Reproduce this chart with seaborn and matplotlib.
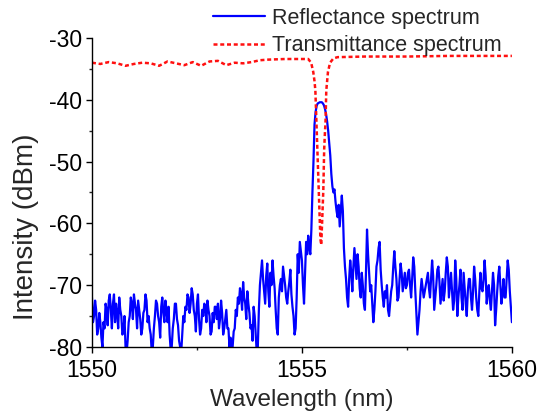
import numpy as np
import pandas as pd
import matplotlib
matplotlib.use("Agg")
import matplotlib.pyplot as plt
from matplotlib.ticker import MultipleLocator
import seaborn as sns

# ---- data ----
refl_start = 1550.0
refl_step = 0.025
refl_db = [
    # 1550.0 - 1550.975
    -72, -76, -75, -72.5, -74, -78, -77, -74.5, -76, -78.5, -80, -76, -77, -73, -74, -76.5, -72.5, -71.5, -74, -77,
    -73, -71.5, -76, -73, -74.5, -77, -72, -74, -75, -78, -77.5, -75, -80, -81, -79, -76, -75, -72, -73, -75.5,
    # 1551.0 - 1551.975
    -71.5, -73, -74, -77, -72.5, -74, -75.5, -78, -77, -74.5, -74, -71.5, -72.5, -76, -75, -77, -78, -81, -80, -77,
    -75, -72.5, -73, -75, -76, -78.5, -73.5, -72, -74.5, -76, -72.5, -74, -76, -73.5, -78, -80.5, -80, -77, -75.5, -73,
    # 1552.0 - 1552.975
    -73, -75.5, -76.5, -79, -80, -81, -78, -75, -76, -73.5, -74, -71.5, -72, -74.5, -73, -70.5, -71.5, -74, -75, -77.5,
    -73, -71.5, -75.5, -78, -77, -74, -75, -73, -73.5, -76, -72.5, -74, -75, -78, -77.5, -74.5, -76, -73.5, -73.5, -75.5,
    # 1553.0 - 1553.975
    -73, -77, -75.5, -72.5, -74.5, -78, -77, -75.5, -74, -77, -77, -80, -78.5, -81, -80, -77.5, -77, -74, -75, -72,
    -73, -70.5, -71.5, -74, -69.5, -72, -73, -75.5, -71, -73, -74.5, -77, -76.5, -79, -73.5, -75, -78, -81, -80, -74,
    # 1554.0 - 1554.975
    -70, -68, -66, -69, -71, -73, -68.5, -66.5, -71, -73.5, -68, -70, -66, -68.5, -70.5, -74, -77, -78, -72, -70,
    -69, -71, -67, -68.5, -70, -72, -73, -71, -69.5, -67.5, -71.5, -73.5, -75, -78, -77, -72, -65, -68, -63, -64.5,
    # 1555.0 - 1555.975
    -66, -70, -73, -68, -63, -65, -62, -64, -65, -61, -55, -50, -44, -42, -41, -40.6, -40.5, -40.4, -40.4, -40.4,
    -40.6, -40.9, -41.5, -42.3, -43.5, -45, -47, -49, -52, -54, -55, -54.5, -56.5, -58, -59, -57, -60.5, -58, -55.5, -58,
    # 1556.0 - 1556.975
    -64, -67, -69, -72, -73.5, -69, -66, -68, -71, -67, -64, -66.5, -69, -65, -67, -70.5, -72, -68, -70, -73,
    -74, -68, -61, -65, -68, -71, -70, -73, -76, -74, -71, -67, -66, -64, -63, -67.5, -70, -72, -73.5, -71,
    # 1557.0 - 1557.975
    -72, -70, -74, -75, -73, -71, -70, -67, -64.5, -67, -69, -72.5, -72, -69, -66.5, -68, -71, -69.5, -68, -70.5,
    -70, -68, -67.5, -70, -72, -69, -65.5, -67, -71, -74.5, -78, -76, -74, -71, -69, -70.5, -72, -71, -70, -69,
    # 1558.0 - 1558.975
    -68, -70.5, -72, -69, -66, -68.5, -74, -72, -70, -67.5, -67, -69.5, -73, -71, -69, -72.5, -71, -68, -65.5, -67,
    -72, -70, -68, -71, -74, -72.5, -66, -69, -75, -72, -70, -67.5, -72, -74, -68, -70.5, -73, -75, -71, -69,
    # 1559.0 - 1560.0
    -69, -72, -74, -71, -67, -69, -72, -74, -75, -71, -68, -70.5, -71, -69, -66, -68.5, -73, -71, -70, -72.5,
    -74, -71, -68, -70, -76.5, -74, -71, -68.5, -67, -70, -73, -71.5, -69, -72, -72, -69, -66, -67.5, -71, -73.5,
    -76,
]
refl_wl = [round(refl_start + refl_step * i, 4) for i in range(len(refl_db))]

trans_wl = [1550.0, 1550.2, 1550.4, 1550.6, 1550.8, 1551.0, 1551.2, 1551.4, 1551.6, 1551.8,
            1552.0, 1552.2, 1552.4, 1552.6, 1552.8, 1553.0, 1553.2, 1553.4, 1553.6, 1553.8,
            1554.0, 1554.2, 1554.6, 1555.0, 1555.15, 1555.22, 1555.27, 1555.30, 1555.32, 1555.36,
            1555.40, 1555.44, 1555.46, 1555.48, 1555.51, 1555.53, 1555.55, 1555.56, 1555.58, 1555.62,
            1555.67, 1555.75, 1555.85, 1556.5, 1557.5, 1558.5, 1559.5, 1560.0]
trans_db = [-34.0, -34.2, -33.9, -34.1, -34.5, -34.2, -34.0, -34.1, -34.5, -33.8,
            -34.1, -34.4, -33.9, -34.5, -33.8, -33.7, -34.4, -34.0, -34.1, -33.9,
            -33.6, -33.5, -33.4, -33.4, -33.4, -34.0, -35.5, -37.0, -38.5, -46.5,
            -54.5, -62.5, -63.5, -60.0, -54.5, -48.0, -45.0, -44.0, -38.5, -35.5,
            -34.0, -33.3, -33.1, -33.0, -33.0, -32.9, -32.9, -32.9]

x_ticks = [1550, 1555, 1560]
y_ticks = [-80, -70, -60, -50, -40, -30]
series_names = ["Reflectance spectrum", "Transmittance spectrum"]

refl_df = pd.DataFrame({"wl": refl_wl, "db": refl_db})
trans_df = pd.DataFrame({"wl": trans_wl, "db": trans_db})

# ---- style ----
sns.set_style("ticks")
plt.rcParams["font.family"] = ["Liberation Sans", "DejaVu Sans"]
plt.rcParams["axes.unicode_minus"] = False

fig = plt.figure(figsize=(5.44, 4.13), dpi=100)
ax = fig.add_axes([0.169, 0.160, 0.772, 0.748])

sns.lineplot(data=refl_df, x="wl", y="db", ax=ax, color="#0000FF", lw=1.6,
             label=series_names[0], estimator=None, sort=False)
sns.lineplot(data=trans_df, x="wl", y="db", ax=ax, color="#FF1010", lw=1.8,
             label=series_names[1], estimator=None, sort=False,
             linestyle=(0, (1.6, 1.1)))

ax.set_xlim(1550, 1560)
ax.set_ylim(-80, -30)
ax.set_xticks(x_ticks)
ax.set_yticks(y_ticks)
ax.xaxis.set_minor_locator(MultipleLocator(2.5))
ax.yaxis.set_minor_locator(MultipleLocator(5))
ax.tick_params(axis="both", which="major", direction="out", length=4, width=1,
               labelsize=16.5, colors="black")
ax.tick_params(axis="x", which="major", pad=5)
ax.tick_params(axis="y", which="major", pad=3)
ax.tick_params(axis="both", which="minor", direction="out", length=2.5, width=1)
for s in ["top", "right"]:
    ax.spines[s].set_visible(False)
for s in ["left", "bottom"]:
    ax.spines[s].set_color("black")
    ax.spines[s].set_linewidth(1)

ax.set_xlabel("Wavelength (nm)", fontsize=17.5, labelpad=5)
ax.set_ylabel("Intensity (dBm)", fontsize=20)
ax.yaxis.set_label_coords(-0.125, 0.39)

leg = ax.legend(loc="upper right", bbox_to_anchor=(0.945, 1.012),
                bbox_transform=fig.transFigure, frameon=False, fontsize=15.5,
                handlelength=2.4, handletextpad=0.3, labelspacing=0.3,
                borderpad=0.1)

fig.savefig("out.png", dpi=100)
